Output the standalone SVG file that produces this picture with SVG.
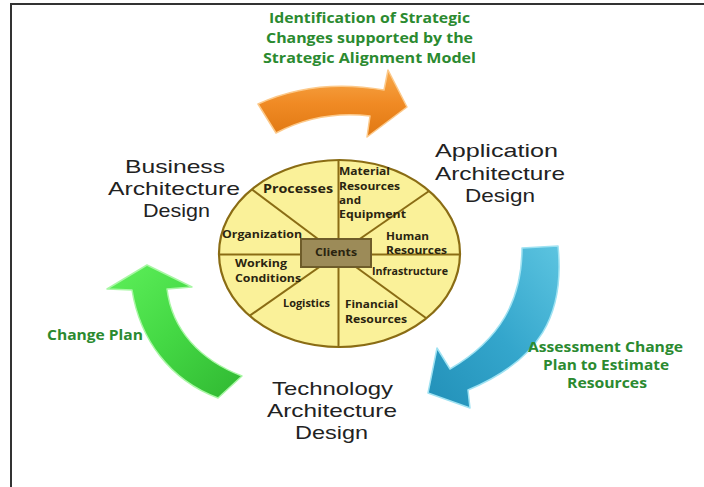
<svg xmlns="http://www.w3.org/2000/svg" width="704" height="487" viewBox="0 0 704 487">
<style>
.big{font-family:"Liberation Sans",Arial,sans-serif;font-size:19px;fill:#222;}
.sm{font-family:"Open Sans","Liberation Sans",sans-serif;font-weight:bold;font-size:10.5px;fill:#2a2410;}
.gr{font-family:"Open Sans","Liberation Sans",sans-serif;font-weight:bold;font-size:14px;fill:#2b8a30;}
.div{stroke:#8a6c14;stroke-width:2;fill:none;}
</style>
<defs>
<linearGradient id="gOr" x1="0" y1="0" x2="0" y2="1">
<stop offset="0" stop-color="#f7a84a"/>
<stop offset="0.5" stop-color="#f08a24"/>
<stop offset="1" stop-color="#e07812"/>
</linearGradient>
<linearGradient id="gBl" x1="1" y1="0" x2="0" y2="1">
<stop offset="0" stop-color="#5cc4e0"/>
<stop offset="0.5" stop-color="#34a6cc"/>
<stop offset="1" stop-color="#2290b8"/>
</linearGradient>
<linearGradient id="gGr" x1="0" y1="0" x2="1" y2="1">
<stop offset="0" stop-color="#5ef05a"/>
<stop offset="0.5" stop-color="#44d844"/>
<stop offset="1" stop-color="#30b832"/>
</linearGradient>
<clipPath id="ellClip"><ellipse cx="339.5" cy="253.5" rx="120.5" ry="93.5"/></clipPath>
</defs>

<rect x="0" y="0" width="704" height="487" fill="#fff"/>
<g id="frame" stroke="#333" stroke-width="2" fill="none">
<line x1="11" y1="4" x2="704" y2="4"/>
<line x1="11" y1="3" x2="11" y2="487"/>
</g>

<g id="connectors">
<g id="arrow-strategic">
<path d="M258,104 Q315,78 384,90 L388,70 L407,107 L367,137 L370,116 Q320,110 276,133 Z" fill="url(#gOr)" stroke="#fcc98a" stroke-width="1.5" stroke-linejoin="round"/>
<text class="gr" x="269" y="23" textLength="201" lengthAdjust="spacingAndGlyphs">Identification of Strategic</text>
<text class="gr" x="266" y="43" textLength="207" lengthAdjust="spacingAndGlyphs">Changes supported by the</text>
<text class="gr" x="263" y="62.5" textLength="213" lengthAdjust="spacingAndGlyphs">Strategic Alignment Model</text>
</g>
<g id="arrow-assessment">
<path d="M522,248 L558,246 C565,315 540,360 468,390 L470,408 L428,393 L437,348 L450,369 C500,340 522,300 522,248 Z" fill="url(#gBl)" stroke="#9fe2f2" stroke-width="1.5" stroke-linejoin="round"/>
<text class="gr" x="528" y="352" textLength="155" lengthAdjust="spacingAndGlyphs">Assessment Change</text>
<text class="gr" x="543" y="370" textLength="126" lengthAdjust="spacingAndGlyphs">Plan to Estimate</text>
<text class="gr" x="567" y="388.3" textLength="80" lengthAdjust="spacingAndGlyphs">Resources</text>
</g>
<g id="arrow-change">
<path d="M147,265 L192,287 L167,289 C172,330 200,360 242,376 L218,398 C170,380 140,340 132,290 L107,289 Z" fill="url(#gGr)" stroke="#a8f7a4" stroke-width="1.5" stroke-linejoin="round"/>
<text class="gr" x="47" y="340" textLength="96" lengthAdjust="spacingAndGlyphs">Change Plan</text>
</g>
</g>

<g id="business">
<text class="big" x="125" y="173" textLength="100" lengthAdjust="spacingAndGlyphs">Business</text>
<text class="big" x="108" y="195" textLength="132" lengthAdjust="spacingAndGlyphs">Architecture</text>
<text class="big" x="143" y="217" textLength="67" lengthAdjust="spacingAndGlyphs">Design</text>
</g>
<g id="application">
<text class="big" x="435" y="157" textLength="123" lengthAdjust="spacingAndGlyphs">Application</text>
<text class="big" x="435" y="180" textLength="130" lengthAdjust="spacingAndGlyphs">Architecture</text>
<text class="big" x="465" y="202" textLength="70" lengthAdjust="spacingAndGlyphs">Design</text>
</g>
<g id="technology">
<text class="big" x="272" y="395" textLength="121" lengthAdjust="spacingAndGlyphs">Technology</text>
<text class="big" x="267" y="417" textLength="130" lengthAdjust="spacingAndGlyphs">Architecture</text>
<text class="big" x="295" y="439" textLength="73" lengthAdjust="spacingAndGlyphs">Design</text>
</g>

<g id="center-wheel">
<ellipse cx="339.5" cy="253.5" rx="120.5" ry="93.5" fill="#faf199"/>
<g clip-path="url(#ellClip)" class="div">
<line x1="338.5" y1="150" x2="338.5" y2="360"/>
<line x1="210" y1="254.5" x2="470" y2="254.5"/>
<line x1="338" y1="254" x2="240" y2="180.5"/>
<line x1="338" y1="254" x2="445" y2="180"/>
<line x1="338" y1="254" x2="225" y2="333"/>
<line x1="338" y1="254" x2="452" y2="337"/>
</g>
<ellipse cx="339.5" cy="253.5" rx="120.5" ry="93.5" fill="none" stroke="#8a6c14" stroke-width="2.2"/>
<text class="sm" x="263" y="193" textLength="70" lengthAdjust="spacingAndGlyphs" style="font-size:11.5px">Processes</text>
<text class="sm" x="339" y="175" textLength="51" lengthAdjust="spacingAndGlyphs">Material</text>
<text class="sm" x="339" y="190" textLength="61" lengthAdjust="spacingAndGlyphs">Resources</text>
<text class="sm" x="339" y="204" textLength="22" lengthAdjust="spacingAndGlyphs">and</text>
<text class="sm" x="339" y="218" textLength="67" lengthAdjust="spacingAndGlyphs">Equipment</text>
<text class="sm" x="222" y="238" textLength="80" lengthAdjust="spacingAndGlyphs">Organization</text>
<text class="sm" x="386" y="240" textLength="43" lengthAdjust="spacingAndGlyphs">Human</text>
<text class="sm" x="386" y="254" textLength="61" lengthAdjust="spacingAndGlyphs">Resources</text>
<text class="sm" x="235" y="267" textLength="52" lengthAdjust="spacingAndGlyphs">Working</text>
<text class="sm" x="235" y="282" textLength="66" lengthAdjust="spacingAndGlyphs">Conditions</text>
<text class="sm" x="372" y="275" textLength="76" lengthAdjust="spacingAndGlyphs">Infrastructure</text>
<text class="sm" x="283" y="307" textLength="47" lengthAdjust="spacingAndGlyphs">Logistics</text>
<text class="sm" x="345" y="308" textLength="53" lengthAdjust="spacingAndGlyphs">Financial</text>
<text class="sm" x="345" y="323" textLength="62" lengthAdjust="spacingAndGlyphs">Resources</text>
<g id="clients">
<rect x="301" y="239" width="70" height="28" fill="#9c8b58" stroke="#6e5c2a" stroke-width="2"/>
<text class="sm" x="315" y="256" textLength="42" lengthAdjust="spacingAndGlyphs" style="font-size:11px">Clients</text>
</g>
</g>
</svg>
